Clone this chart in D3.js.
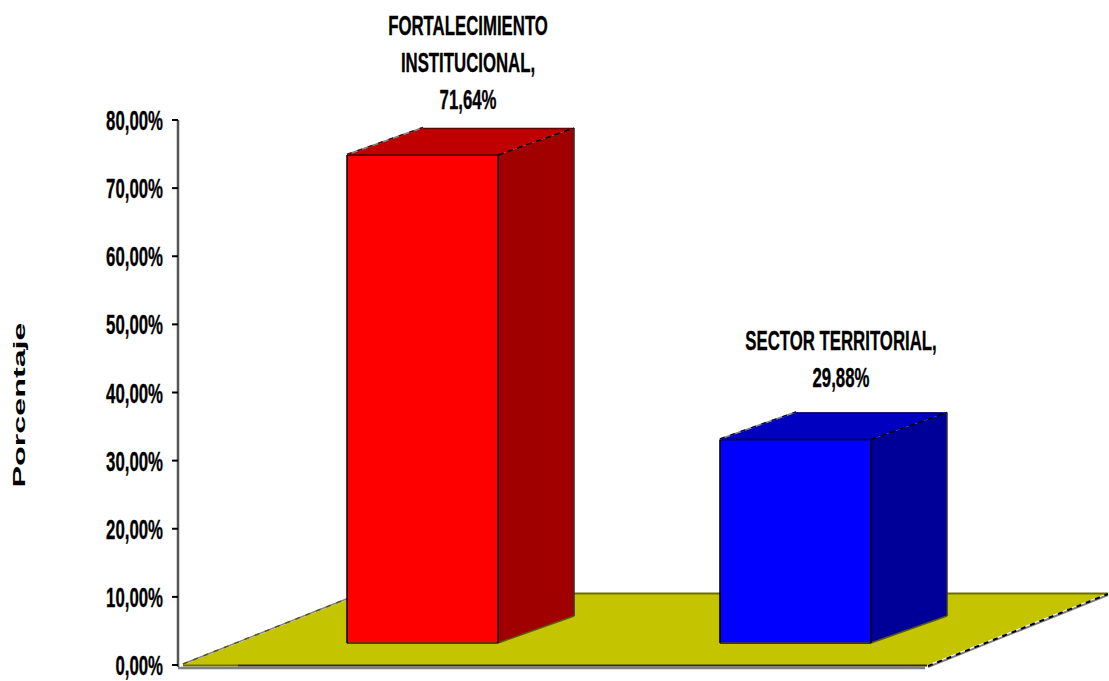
<!DOCTYPE html>
<html><head><meta charset="utf-8">
<script src="https://cdnjs.cloudflare.com/ajax/libs/d3/7.8.5/d3.min.js"></script>
<style>html,body{margin:0;background:#fff}svg{display:block}text{font-family:"Liberation Sans",Arial,sans-serif;font-weight:bold;fill:#000;stroke:#000;stroke-width:.35px}</style>
</head><body><svg id="c" width="1109" height="681"></svg>
<script>
const categories=["FORTALECIMIENTO INSTITUCIONAL","SECTOR TERRITORIAL"];
const values=[71.64,29.88];
const labelLines=[["FORTALECIMIENTO","INSTITUCIONAL,","71,64%"],["SECTOR TERRITORIAL,","29,88%"]];
const frontColors=["#ff0000","#0000ff"];
const topColors=["#c00000","#0000c0"];
const sideColors=["#a00000","#000098"];
const edgeColors=["#600000","#000060"];
const tickValues=[0,10,20,30,40,50,60,70,80];
const axisTitle="Porcentaje";

const y=d3.scaleLinear().domain([0,80]).range([665,120]);
const x=d3.scaleBand().domain(categories).range([347,871]).paddingInner(0.595).paddingOuter(0);
const dx=76,dy=-27,lift=-22;
const labelGap=[46,52];
const svg=d3.select("#c");
const pts=a=>a.map(p=>p.join(",")).join(" ");
const SX=0.622,FS="27px";
const line=(p,q,c,w,dash)=>svg.append("line").attr("x1",p[0]).attr("y1",p[1]).attr("x2",q[0]).attr("y2",q[1])
  .attr("stroke",c).attr("stroke-width",w).attr("stroke-dasharray",dash||null);

// floor
const fl=[[183,665],[927,665],[1108,593],[364,593]];
line([178,668],[925,668],"#808080",2.5);
svg.append("polygon").attr("points",pts(fl)).attr("fill","#c4c400");
line([238,665.5],[927,665.5],"#2e2e00",2);
line([183,665.5],[238,665.5],"#6e6e00",2);
line([364,593.5],[1108,593.5],"#6e6e00",2);
line([183,664],[364,592],"#808080",1.5);
line([183,664],[364,592],"#5a5a00",1.5,"5 6");
line([928,667],[1108,595],"#808080",2);
line([928,666],[1108,594],"#000",2,"5 5");

// axis
const ax=svg.append("g").attr("transform","translate(178,0)")
  .call(d3.axisLeft(y).offset(0).tickValues(tickValues).tickSize(6).tickPadding(0).tickFormat(d=>d3.format(".2f")(d).replace(".",",")+"%"));
ax.select(".domain").attr("stroke","#555").attr("stroke-width",2.5).attr("d","M0,120V667");
ax.selectAll(".tick line").attr("stroke","#000").attr("stroke-width",2);
ax.selectAll(".tick text").attr("x",0).attr("dy",null).attr("y",10)
  .attr("transform","translate(-15,0) scale("+SX+",1)")
  .style("font-size",FS).attr("text-anchor","end").attr("font-family",null);

// bars
categories.forEach((c,i)=>{
  const x0=x(c),x1=x0+x.bandwidth(),yt=y(values[i])+lift,yb=y(0)+lift;
  svg.append("polygon").attr("points",pts([[x1,yt],[x1+dx,yt+dy],[x1+dx,yb+dy],[x1,yb]])).attr("fill",sideColors[i]);
  svg.append("polygon").attr("points",pts([[x0,yt],[x0+dx,yt+dy],[x1+dx,yt+dy],[x1,yt]])).attr("fill",topColors[i]);
  svg.append("rect").attr("x",x0).attr("y",yt).attr("width",x1-x0).attr("height",yb-yt).attr("fill",frontColors[i]);
  line([x0+dx,yt+dy+.5],[x1+dx,yt+dy+.5],edgeColors[i],1.5);
  line([x1+dx,yt+dy],[x1+dx,yb+dy],"#333",1.5);
  line([x1,yb],[x1+dx,yb+dy],"#5a5a00",1.5);
  line([x0,yt],[x1,yt],edgeColors[i],2);
  line([x0,yb],[x1,yb],i?"#303050":"#7a2a00",2);
  line([x0,yt],[x0,yb],"#000",1.5);
  line([x1,yt],[x1,yb],"#000",1.5);
  line([x0,yt-.5],[x0+dx,yt+dy-.5],"#808080",1.5);
  line([x0,yt-.5],[x0+dx,yt+dy-.5],edgeColors[i],1.5,"5 6");
  line([x1,yt],[x1+dx,yt+dy],"#000",1.5,"6 4");
  const n=labelLines[i].length,cx=(x0+x1)/2+45.5,base=yt-labelGap[i];
  labelLines[i].forEach((t,k)=>{
    svg.append("text").text(t).attr("text-anchor","middle").style("font-size",FS)
     .attr("transform","translate("+cx+","+(base-(n-1-k)*37)+") scale("+SX+",1)");
  });
});

// title
svg.append("text").text(axisTitle).attr("text-anchor","middle").style("font-size","17px").style("stroke-width","0")
  .attr("transform","translate(25,405) rotate(-90)").attr("textLength",165).attr("lengthAdjust","spacingAndGlyphs");
</script></body></html>
